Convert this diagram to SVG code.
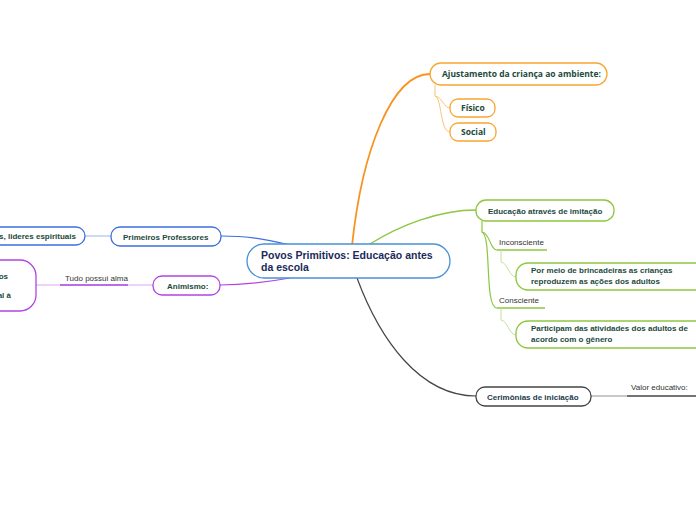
<svg xmlns="http://www.w3.org/2000/svg" width="696" height="520" viewBox="0 0 696 520">
<style>
  .t{font-family:"Liberation Sans",Arial,sans-serif;font-weight:bold;font-size:8px;fill:#1d4a3c}
  .o{font-family:"Open Sans","Noto Sans",sans-serif;font-weight:bold;font-size:8.5px;fill:#1d4a3c}
  .n{font-family:"Liberation Sans",Arial,sans-serif;font-size:8px;fill:#333}
  .box{fill:#fff;stroke-width:1.3}
  .c{fill:none}
</style>
<rect width="696" height="520" fill="#fff"/>
<g id="connectors">
  <path class="c" d="M352,246 C362,150 392,74 430,74" stroke="#f7931e" stroke-width="1.8"/>
  <path class="c" d="M435,85 L435,96 C442,97 444,108 450,108" stroke="#f9c37a" stroke-width="1"/>
  <path class="c" d="M435,96 C442,98 440,132 450,132" stroke="#f9c37a" stroke-width="1"/>
  <path class="c" d="M370,244 C400,225 440,210 476,210" stroke="#8dc63f" stroke-width="1.4"/>
  <path class="c" d="M482,221 L482,232 C490,233 490,250 497,250" stroke="#8dc63f" stroke-width="1.2"/>
  <path class="c" d="M482,232 C492,236 484,308 497,308" stroke="#8dc63f" stroke-width="1.2"/>
  <line x1="497" y1="250" x2="547" y2="250" stroke="#8dc63f" stroke-width="1.5"/>
  <line x1="497" y1="308" x2="545" y2="308" stroke="#8dc63f" stroke-width="1.5"/>
  <path class="c" d="M501,250 L501,262 C508,263 509,277 516,277" stroke="#c3e09b" stroke-width="1"/>
  <path class="c" d="M501,308 L501,320 C508,321 509,335 516,335" stroke="#c3e09b" stroke-width="1"/>
  <path class="c" d="M357,278 C380,340 420,396 476,396" stroke="#444" stroke-width="1.2"/>
  <line x1="591" y1="396" x2="627" y2="396" stroke="#777" stroke-width="0.8"/>
  <line x1="627" y1="396" x2="696" y2="396" stroke="#444" stroke-width="1.5"/>
  <path class="c" d="M290,245 C260,238 245,236 221,236" stroke="#3d6fe0" stroke-width="1.2"/>
  <line x1="85" y1="236" x2="111" y2="236" stroke="#9bb6f0" stroke-width="1"/>
  <path class="c" d="M290,278 C262,283 245,285 220,285" stroke="#b044e0" stroke-width="1.2"/>
  <line x1="128" y1="285" x2="153" y2="285" stroke="#d9a6f0" stroke-width="1"/>
  <line x1="60" y1="285" x2="128" y2="285" stroke="#a23de0" stroke-width="1.5"/>
  <line x1="36" y1="285" x2="60" y2="285" stroke="#d9a6f0" stroke-width="1"/>
</g>
<g id="central">
  <rect class="box" x="247" y="244" width="203" height="34" rx="17" stroke="#4a90d9"/>
  <text x="261" y="259" style="font-family:'Liberation Sans',Arial,sans-serif;font-weight:bold;font-size:10.5px;fill:#1b2a5a">Povos Primitivos: Educação antes</text>
  <text x="261" y="271" style="font-family:'Liberation Sans',Arial,sans-serif;font-weight:bold;font-size:10.5px;fill:#1b2a5a">da escola</text>
</g>
<g id="ajustamento">
  <rect class="box" x="430" y="63" width="177" height="22" rx="11" stroke="#f7a632"/>
  <text class="o" x="442" y="77">Ajustamento da criança ao ambiente:</text>
</g>
<g id="fisico">
  <rect class="box" x="450" y="99" width="45" height="18" rx="8" stroke="#f7a632"/>
  <text class="o" x="461" y="111">Físico</text>
</g>
<g id="social">
  <rect class="box" x="450" y="123" width="46" height="18" rx="8" stroke="#f7a632"/>
  <text class="o" x="461" y="135">Social</text>
</g>
<g id="educacao">
  <rect class="box" x="476" y="200" width="138" height="21" rx="10" stroke="#8dc63f"/>
  <text class="t" x="488" y="214">Educação através de imitação</text>
</g>
<g id="inconsciente">
  <text class="n" x="499" y="245">Inconsciente</text>
</g>
<g id="brincadeiras">
  <rect class="box" x="516" y="263" width="200" height="27" rx="12" stroke="#8dc63f"/>
  <text class="t" x="531" y="273">Por meio de brincadeiras as crianças</text>
  <text class="t" x="531" y="284">reproduzem as ações dos adultos</text>
</g>
<g id="consciente">
  <text class="n" x="499" y="303">Consciente</text>
</g>
<g id="participam">
  <rect class="box" x="516" y="321" width="200" height="27" rx="12" stroke="#8dc63f"/>
  <text class="t" x="531" y="331">Participam das atividades dos adultos de</text>
  <text class="t" x="531" y="342">acordo com o gênero</text>
</g>
<g id="cerimonias">
  <rect class="box" x="476" y="387" width="115" height="19" rx="9" stroke="#444"/>
  <text class="t" x="487" y="400" style="fill:#1d3a4a">Cerimônias de iniciação</text>
</g>
<g id="valor">
  <text class="n" x="631" y="390">Valor educativo:</text>
</g>
<g id="professores">
  <rect class="box" x="111" y="227" width="110" height="19" rx="9" stroke="#3d6fe0"/>
  <text class="t" x="123" y="240">Primeiros Professores</text>
</g>
<g id="lideres">
  <rect class="box" x="-60" y="227" width="145" height="18" rx="9" stroke="#3d6fe0"/>
  <text class="t" x="76" y="239" text-anchor="end">s, lideres espirituais</text>
</g>
<g id="animismo">
  <rect class="box" x="153" y="276" width="67" height="19" rx="9" stroke="#b044e0"/>
  <text class="t" x="167" y="289">Animismo:</text>
</g>
<g id="tudo">
  <text class="n" x="65" y="281">Tudo possui alma</text>
</g>
<g id="leftpurple">
  <rect class="box" x="-60" y="260" width="96" height="51" rx="16" stroke="#b044e0"/>
  <text class="t" x="8" y="279" text-anchor="end">os</text>
  <text class="t" x="11" y="298" text-anchor="end">al à</text>
</g>
</svg>
